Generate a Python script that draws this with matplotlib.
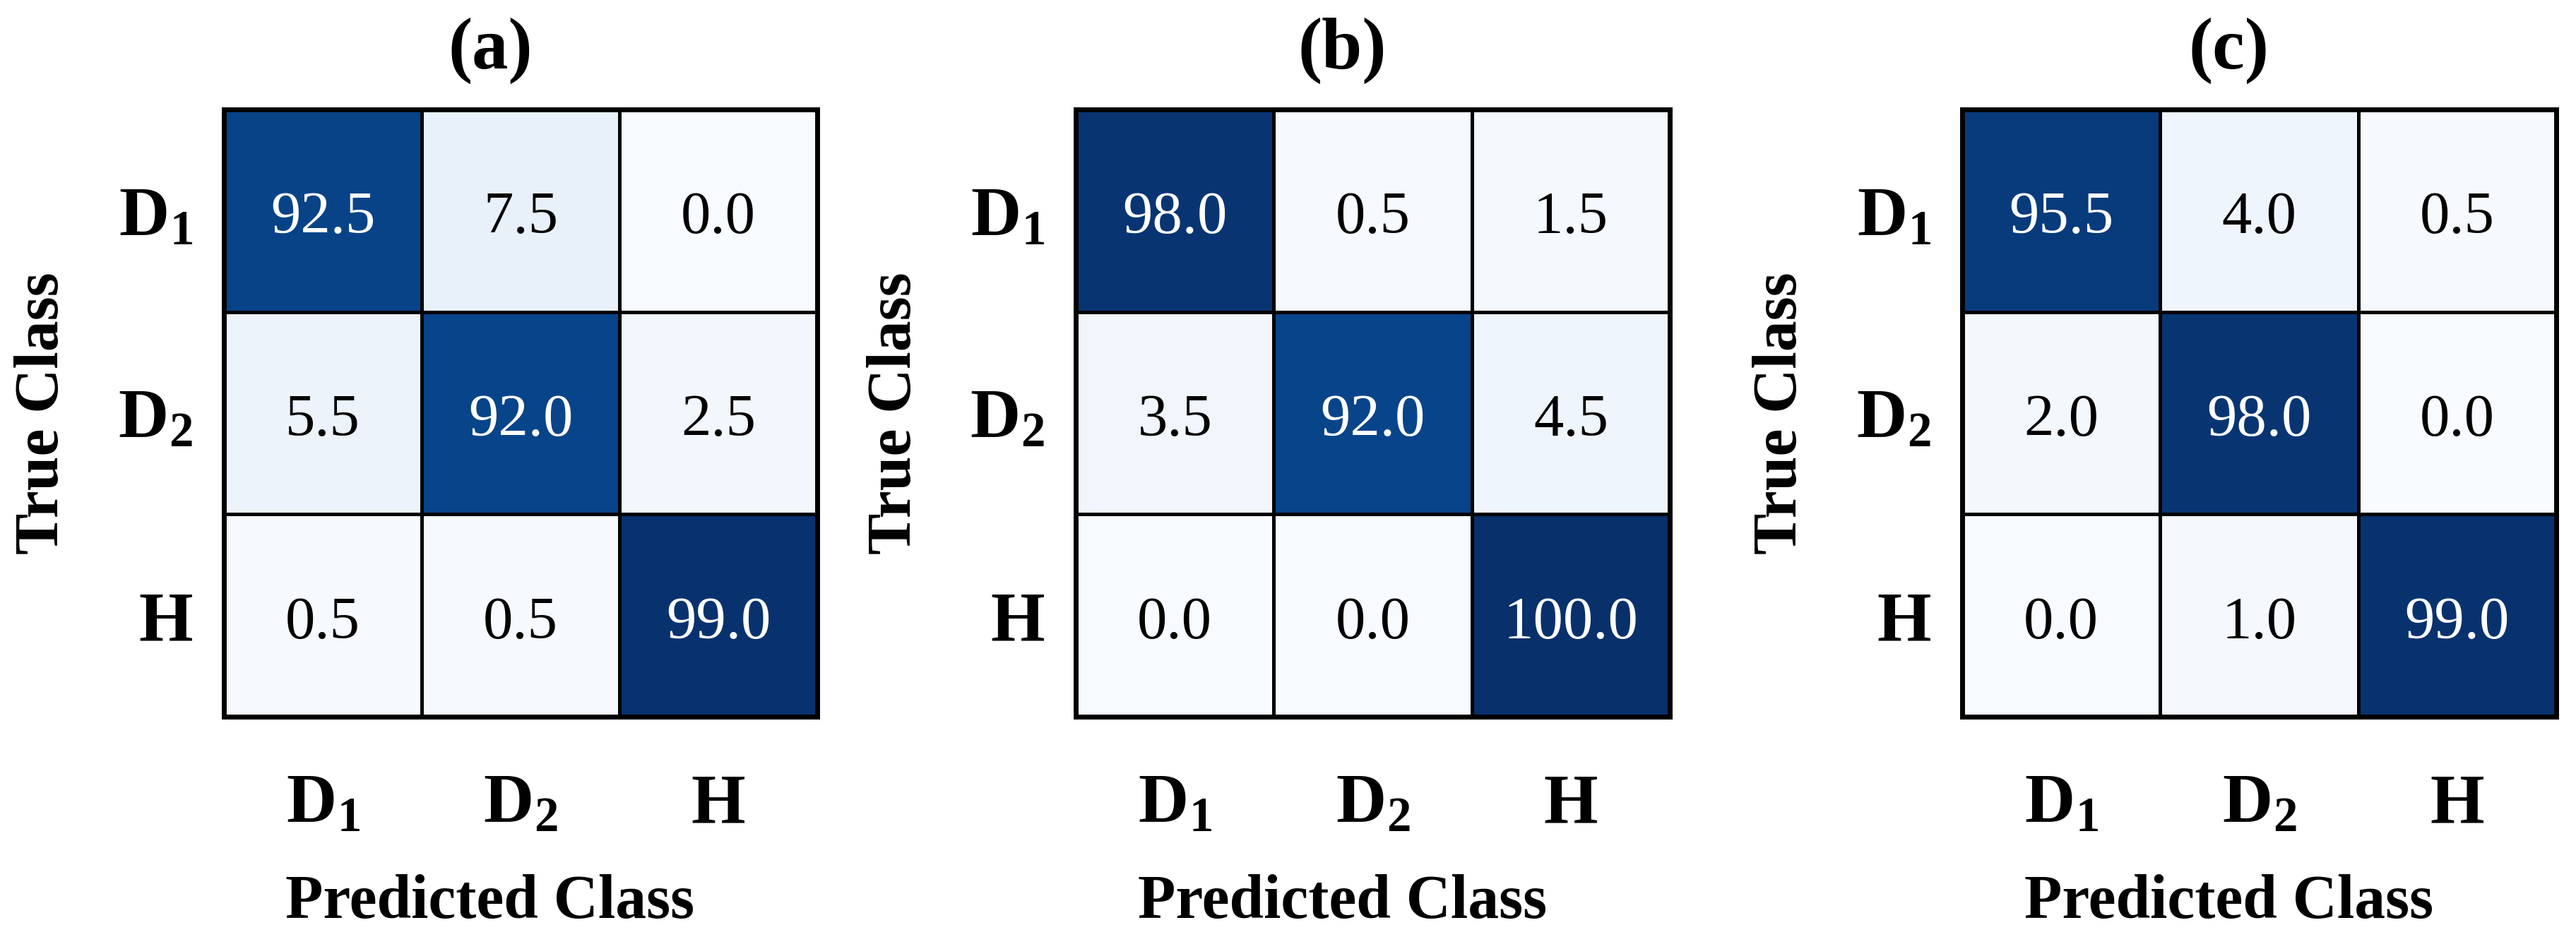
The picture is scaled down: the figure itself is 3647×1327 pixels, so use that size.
import numpy as np
import matplotlib
matplotlib.use("Agg")
import matplotlib.pyplot as plt

plt.rcParams['font.family'] = ['Liberation Serif', 'DejaVu Serif']
plt.rcParams['mathtext.fontset'] = 'custom'
plt.rcParams['mathtext.bf'] = 'Liberation Serif:bold'
plt.rcParams['mathtext.rm'] = 'Liberation Serif:bold'
plt.rcParams['mathtext.default'] = 'bf'

# data
classes = [r'$D_1$', r'$D_2$', r'$H$']
titles = ['(a)', '(b)', '(c)']
cm_a = [[92.5, 7.5, 0.0],
        [5.5, 92.0, 2.5],
        [0.5, 0.5, 99.0]]
cm_b = [[98.0, 0.5, 1.5],
        [3.5, 92.0, 4.5],
        [0.0, 0.0, 100.0]]
cm_c = [[95.5, 4.0, 0.5],
        [2.0, 98.0, 0.0],
        [0.0, 1.0, 99.0]]
matrices = [cm_a, cm_b, cm_c]

W, H = 3647, 1327
fig = plt.figure(figsize=(W / 100, H / 100), dpi=100)

# axes boxes in pixels (left, right); top/bottom shared
boxes = [(317, 1157), (1523, 2364), (2778, 3619)]
top, bot = 155, 1015

for (l, r), cm, ttl in zip(boxes, matrices, titles):
    ax = fig.add_axes([l / W, (H - bot) / H, (r - l) / W, (bot - top) / H])
    cm = np.array(cm)
    ax.imshow(cm, cmap='Blues', vmin=0, vmax=100, aspect='auto')
    for i in range(3):
        for j in range(3):
            v = cm[i, j]
            ax.text(j, i + 0.04, f'{v:.1f}', ha='center', va='center', fontsize=61,
                    color='white' if v > 50 else 'black')
    ax.set_xticks(range(3))
    ax.set_yticks(range(3))
    ax.set_xticklabels(classes, fontsize=71)
    ax.set_yticklabels(classes, fontsize=71)
    ax.tick_params(axis='both', length=0)
    ax.tick_params(axis='x', pad=58)
    ax.tick_params(axis='y', pad=32)
    ax.set_xticks(np.arange(-0.5, 3, 1), minor=True)
    ax.set_yticks(np.arange(-0.5, 3, 1), minor=True)
    ax.tick_params(which='minor', length=0)
    ax.grid(which='minor', color='black', linewidth=3.6)
    ax.grid(which='major', visible=False)
    for s in ax.spines.values():
        s.set_linewidth(5)
        s.set_color('black')

    cx = (l + r) / 2 - 43
    fig.text(cx / W, 1 - 72 / H, ttl, ha='center', va='center',
             fontsize=74, fontweight='bold')
    fig.text(cx / W, 1 - 1300 / H, 'Predicted Class', ha='center', va='baseline',
             fontsize=63, fontweight='bold')
    fig.text((l - 256) / W, 1 - 585 / H, 'True Class', ha='center', va='center',
             rotation=90, fontsize=63, fontweight='bold')

fig.savefig('out.png', dpi=100)
